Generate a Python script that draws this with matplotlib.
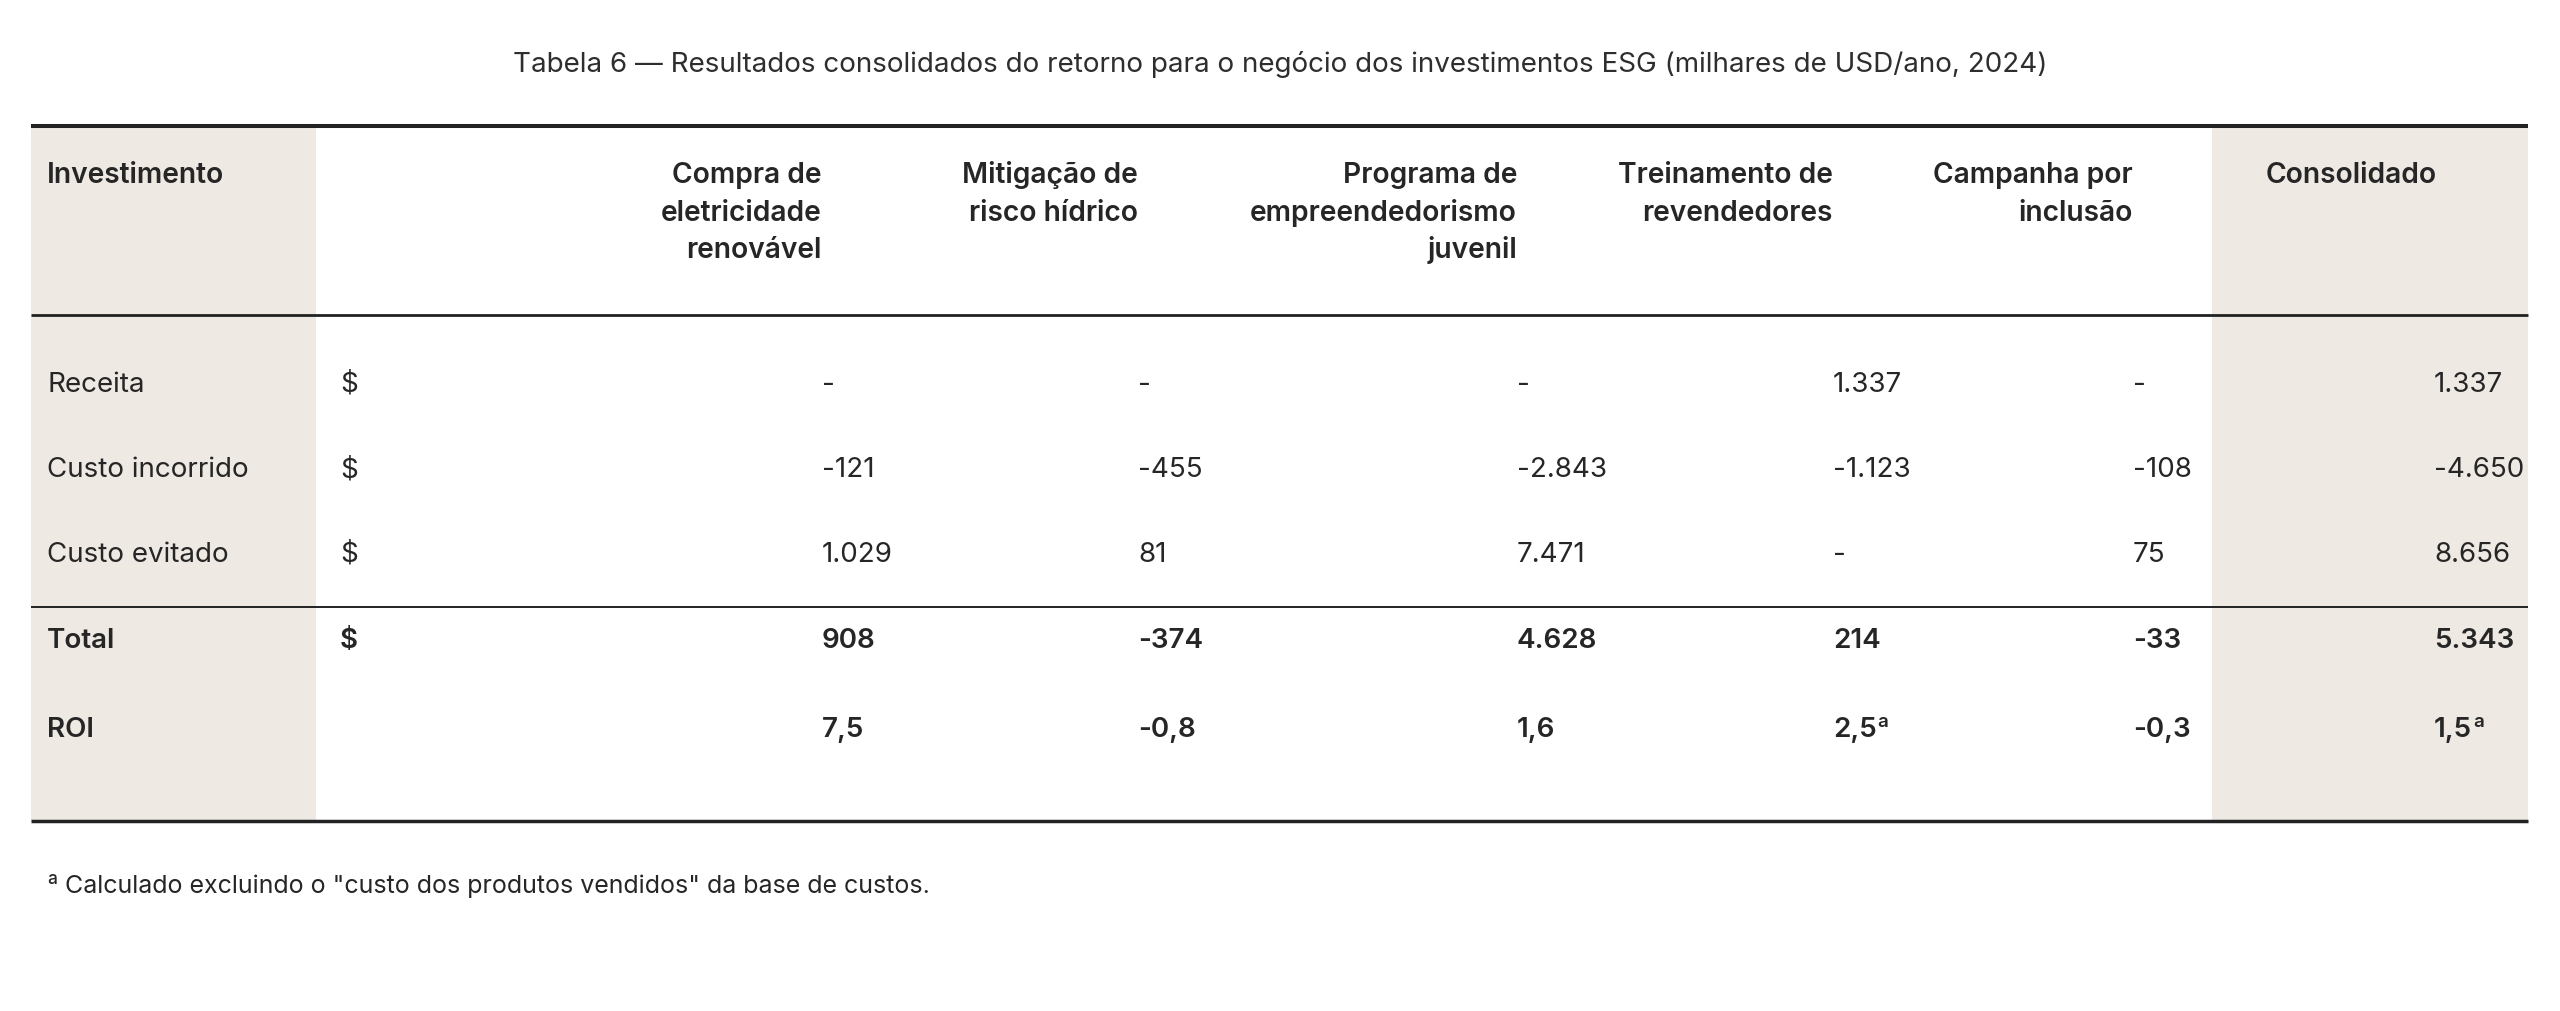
import matplotlib.pyplot as plt

plt.rcParams["font.family"] = ["Inter", "DejaVu Sans"]

TITLE = "Tabela 6 — Resultados consolidados do retorno para o negócio dos investimentos ESG (milhares de USD/ano, 2024)"
FOOTNOTE = "Calculado excluindo o \"custo dos produtos vendidos\" da base de custos."

columns = [
    "Compra de\neletricidade\nrenovável",
    "Mitigação de\nrisco hídrico",
    "Programa de\nempreendedorismo\njuvenil",
    "Treinamento de\nrevendedores",
    "Campanha por\ninclusão",
]
consolidated_header = "Consolidado"

row_labels = ["Receita", "Custo incorrido", "Custo evitado", "Total", "ROI"]
row_units = ["$", "$", "$", "$", ""]
row_bold = [False, False, False, True, True]

receita = ["-", "-", "-", "1.337", "-", "1.337"]
custo_incorrido = ["-121", "-455", "-2.843", "-1.123", "-108", "-4.650"]
custo_evitado = ["1.029", "81", "7.471", "-", "75", "8.656"]
total = ["908", "-374", "4.628", "214", "-33", "5.343"]
roi = ["7,5", "-0,8", "1,6", "2,5", "-0,3", "1,5"]
roi_note = [False, False, False, True, False, True]

rows = [receita, custo_incorrido, custo_evitado, total, roi]

# layout in pixels (figure is 2560 x 1011)
W, H = 2560, 1011
left, right = 31, 2528
shade_left_x1 = 316
shade_right_x0 = 2212
y_top, y_head, y_total, y_bottom = 126, 315, 607, 821
col_x = [822, 1138, 1517, 1833, 2133, 2434]
cons_head_x = 2266
head_base = [183, 221, 258]
row_base = [392, 477, 562, 648, 737]

shade = "#eee9e3"
ink = "#262626"
fs = 20
fs_head = 20.3

fig = plt.figure(figsize=(25.6, 10.11), dpi=100)
ax = fig.add_axes([0, 0, 1, 1])
ax.set_xlim(0, W)
ax.set_ylim(H, 0)
ax.axis("off")

ax.axvspan(left, shade_left_x1, ymin=1 - y_bottom / H, ymax=1 - y_top / H, color=shade, lw=0)
ax.axvspan(shade_right_x0, right, ymin=1 - y_bottom / H, ymax=1 - y_top / H, color=shade, lw=0)

ax.plot([left, right], [y_top, y_top], color="#222222", lw=2.9, solid_capstyle="butt")
ax.plot([left, right], [y_head, y_head], color="#222222", lw=2.0, solid_capstyle="butt")
ax.plot([left, right], [y_total, y_total], color="#222222", lw=1.4, solid_capstyle="butt")
ax.plot([left, right], [y_bottom, y_bottom], color="#222222", lw=2.5, solid_capstyle="butt")

ax.text(W / 2, 72, TITLE, ha="center", va="baseline", fontsize=20, color="#2e2e2e")

# header
ax.text(47, head_base[0], "Investimento", ha="left", va="baseline", fontsize=fs_head,
        fontweight="semibold", color=ink)
for x, name in zip(col_x[:5], columns):
    for k, line in enumerate(name.split("\n")):
        ax.text(x, head_base[k], line, ha="right", va="baseline", fontsize=fs_head,
                fontweight="semibold", color=ink)
ax.text(cons_head_x, head_base[0], consolidated_header, ha="left", va="baseline",
        fontsize=fs_head, fontweight="semibold", color=ink)

# body
renderer = fig.canvas.get_renderer()
for i, (label, unit, vals) in enumerate(zip(row_labels, row_units, rows)):
    wt = "semibold" if row_bold[i] else "normal"
    y = row_base[i]
    ax.text(47, y, label, ha="left", va="baseline", fontsize=fs, fontweight=wt, color=ink)
    ax.text(340, y, unit, ha="left", va="baseline", fontsize=fs, fontweight=wt, color=ink)
    for j, v in enumerate(vals):
        t = ax.text(col_x[j], y, v, ha="left", va="baseline", fontsize=fs,
                    fontweight=wt, color=ink)
        if label == "ROI" and roi_note[j]:
            bb = t.get_window_extent(renderer=renderer)
            ax.text(bb.x1 + 1, y - 10, "a", ha="left", va="baseline", fontsize=13.5,
                    fontweight=wt, color=ink)

# footnote
ax.text(47, 884, "a", ha="left", va="baseline", fontsize=12.5, fontweight="medium", color=ink)
ax.text(65, 893, FOOTNOTE, ha="left", va="baseline", fontsize=18, color=ink)

fig.savefig("out.png", dpi=100)
